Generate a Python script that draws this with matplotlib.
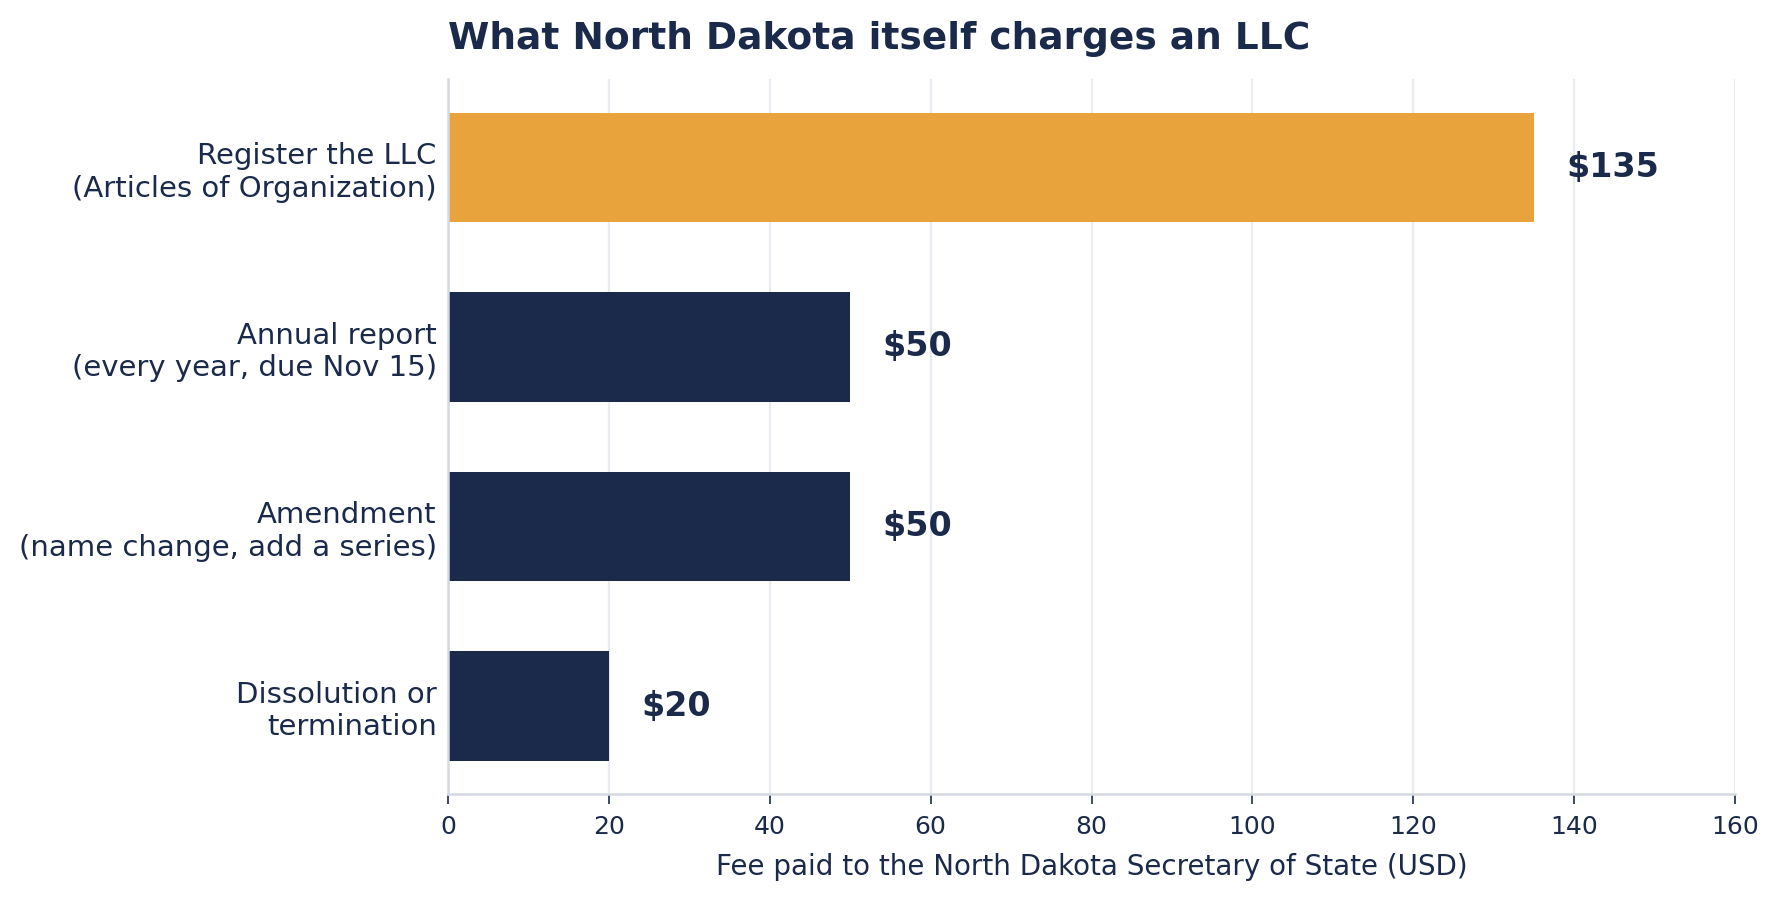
import matplotlib
matplotlib.use('Agg')
import matplotlib.pyplot as plt

# fee data
labels = [
    "Register the LLC\n(Articles of Organization)",
    "Annual report\n(every year, due Nov 15)",
    "Amendment\n(name change, add a series)",
    "Dissolution or\ntermination",
]
fees = [135, 50, 50, 20]
value_text = ["$135", "$50", "$50", "$20"]

NAVY = "#1b2a4a"
ORANGE = "#e8a33d"
colors = [ORANGE, NAVY, NAVY, NAVY]

fig = plt.figure(figsize=(8.895, 4.495), dpi=200)
ax = fig.add_axes([0.2518, 0.1168, 0.7235, 0.795])

y = list(range(len(labels)))
ax.barh(y, fees, height=0.61, color=colors, zorder=2)

for yi, v, t in zip(y, fees, value_text):
    ax.text(v + 4, yi, t, va='center', ha='left', fontsize=12,
            fontweight='bold', color=NAVY)

ax.set_yticks(y)
ax.set_yticklabels(labels, fontsize=10.5, color=NAVY)
ax.set_ylim(3.49, -0.49)
ax.set_xlim(0, 160)
ax.set_xticks(range(0, 161, 20))
ax.tick_params(axis='x', labelsize=9, colors=NAVY, length=3.5, width=0.6, pad=4)
ax.tick_params(axis='y', length=0, pad=4)
ax.grid(axis='x', color="#e8ebf0", linewidth=0.8, zorder=0)
ax.set_axisbelow(True)

for s in ['top', 'right']:
    ax.spines[s].set_visible(False)
for s in ['left', 'bottom']:
    ax.spines[s].set_color("#d5d9e2")
    ax.spines[s].set_linewidth(0.9)

ax.set_xlabel("Fee paid to the North Dakota Secretary of State (USD)",
              fontsize=10, color=NAVY, labelpad=5)
ax.set_title("What North Dakota itself charges an LLC", loc='left',
             fontsize=13.5, fontweight='bold', color=NAVY, pad=11)

fig.savefig("out.png", dpi=200)
plt.close(fig)
